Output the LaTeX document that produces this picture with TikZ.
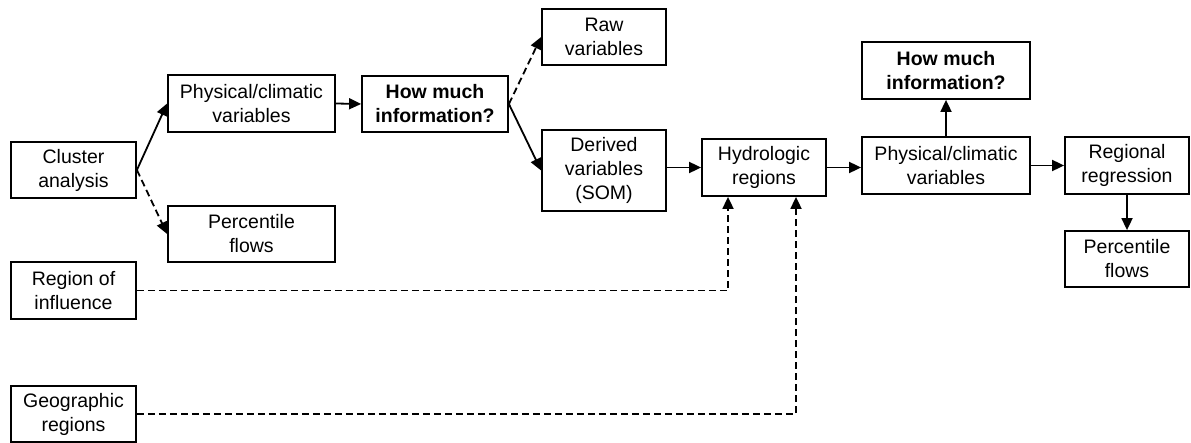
\documentclass[tikz,border=0pt]{standalone}
\usepackage{fontspec}
\setmainfont{Liberation Sans}
\usetikzlibrary{arrows.meta,calc}
\begin{document}
\begin{tikzpicture}[x=1pt,y=-1pt,
  box/.style={draw,line width=1.8pt,align=center,inner sep=0pt,font=\fontsize{19.5}{24}\selectfont},
  conn/.style={line width=1.8pt,-{Triangle[length=12pt,width=11pt]}},
  dconn/.style={conn,dash pattern=on 7pt off 4pt}]
\useasboundingbox (0,0) rectangle (1191,443);
\node[box,minimum width=125pt,minimum height=56pt] (clus) at (73.5,170) {Cluster\\analysis};
\node[box,minimum width=167pt,minimum height=57pt] (phys1) at (251.5,103.5) {Physical/climatic\\variables};
\node[box,minimum width=167pt,minimum height=56pt] (perc1) at (251.5,234) {Percentile\\flows};
\node[box,minimum width=146pt,minimum height=56pt] (how1) at (435,104) {\textbf{How much}\\\textbf{information?}};
\node[box,minimum width=124pt,minimum height=56pt] (raw) at (604,37) {Raw\\variables};
\node[box,minimum width=124pt,minimum height=81pt] (der) at (604,170.5) {Derived\\variables\\(SOM)};
\node[box,minimum width=124pt,minimum height=57pt] (hyd) at (764,167.5) {Hydrologic\\regions};
\node[box,minimum width=168pt,minimum height=57pt] (phys2) at (946,165.5) {Physical/climatic\\variables};
\node[box,minimum width=168pt,minimum height=57pt] (how2) at (946,70.5) {\textbf{How much}\\\textbf{information?}};
\node[box,minimum width=124pt,minimum height=57pt] (reg) at (1127,165.5) {Regional\\regression};
\node[box,minimum width=124pt,minimum height=56pt] (perc2) at (1127,259) {Percentile\\flows};
\node[box,minimum width=125pt,minimum height=57pt] (roi) at (73.5,290.5) {Region of\\influence};
\node[box,minimum width=125pt,minimum height=56pt] (geo) at (73.5,414) {Geographic\\regions};

\draw[conn] (clus.east) -- (phys1.west);
\draw[dconn] (clus.east) -- (perc1.west);
\draw[conn] (phys1.east) -- (how1.west);
\draw[dconn] (how1.east) -- (raw.west);
\draw[conn] (how1.east) -- (der.west);
\draw[conn] (der.east |- hyd.west) -- (hyd.west);
\draw[conn] (hyd.east) -- (hyd.east -| phys2.west);
\draw[conn] (phys2.east) -- (reg.west);
\draw[conn] (phys2.north) -- (how2.south);
\draw[conn] (reg.south) -- (perc2.north);
\draw[dconn] (roi.east) -| ([xshift=-36pt]hyd.south);
\draw[dconn] (geo.east) -| ([xshift=32pt]hyd.south);
\end{tikzpicture}
\end{document}
